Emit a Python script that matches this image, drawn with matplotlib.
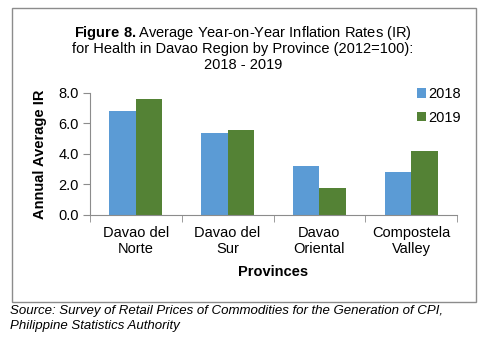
import matplotlib.pyplot as plt
import numpy as np
from matplotlib.patches import Rectangle

plt.rcParams["font.family"] = ["Liberation Sans", "DejaVu Sans"]
plt.rcParams["mathtext.fontset"] = "custom"
plt.rcParams["mathtext.rm"] = "Liberation Sans"
plt.rcParams["mathtext.bf"] = "Liberation Sans:bold"

provinces = ["Davao del\nNorte", "Davao del\nSur", "Davao\nOriental", "Compostela\nValley"]
ir_2018 = [6.8, 5.4, 3.2, 2.8]
ir_2019 = [7.6, 5.6, 1.8, 4.2]
yticks = [0.0, 2.0, 4.0, 6.0, 8.0]

W, H = 487, 343
fig = plt.figure(figsize=(W / 100, H / 100), dpi=100)

# outer chart border
fig.patches.append(Rectangle((12 / W, 1 - 302 / H), 464 / W, 294 / H, transform=fig.transFigure,
                             fill=False, edgecolor="#8c8c8c", linewidth=1.0))

ax = fig.add_axes([90 / W, 1 - 215 / H, 367 / W, 122 / H])
x = np.arange(len(provinces))
bw = 0.29
ax.bar(x - bw / 2, ir_2018, bw, color="#5B9BD5", label="2018")
ax.bar(x + bw / 2, ir_2019, bw, color="#548235", label="2019")

ax.set_xlim(-0.5, len(provinces) - 0.5)
ax.set_ylim(0, 8)
ax.set_yticks(yticks)
ax.set_yticklabels([f"{v:.1f}" for v in yticks], fontsize=10.5)
ax.set_xticks(x)
ax.set_xticklabels(provinces, fontsize=10.5)
ax.tick_params(axis="x", length=0, pad=8)
ax.set_xticks(np.arange(len(provinces) + 1) - 0.5, minor=True)
ax.tick_params(axis="x", which="minor", length=5, color="#8c8c8c")
ax.tick_params(axis="y", length=5, color="#8c8c8c", pad=3)
for s in ["top", "right"]:
    ax.spines[s].set_visible(False)
for s in ["left", "bottom"]:
    ax.spines[s].set_color("#8c8c8c")

ax.set_ylabel("Annual Average IR", fontsize=10.5, fontweight="bold", labelpad=8)
ax.set_xlabel("Provinces", fontsize=10.5, fontweight="bold", labelpad=6)

ax.legend(loc="upper left", bbox_to_anchor=(404 / W, 1 - 74 / H), bbox_transform=fig.transFigure,
          frameon=False, fontsize=10.5, handlelength=0.6, handleheight=0.6, handletextpad=0.15,
          labelspacing=0.65)

fig.text(243 / W, 1 - 33 / H, r"$\mathbf{Figure\ 8.}$Average Year-on-Year Inflation Rates (IR)",
         ha="center", va="center", fontsize=10.5)
fig.text(243 / W, 1 - 49 / H, "for Health in Davao Region by Province (2012=100):",
         ha="center", va="center", fontsize=10.5)
fig.text(243 / W, 1 - 65 / H, "2018 - 2019", ha="center", va="center", fontsize=10.5)

fig.text(10 / W, 1 - 311 / H, "Source: Survey of Retail Prices of Commodities for the Generation of CPI,",
         ha="left", va="center", fontsize=9.5, style="italic")
fig.text(10 / W, 1 - 326 / H, "Philippine Statistics Authority",
         ha="left", va="center", fontsize=9.5, style="italic")

fig.savefig("out.png", dpi=100)
